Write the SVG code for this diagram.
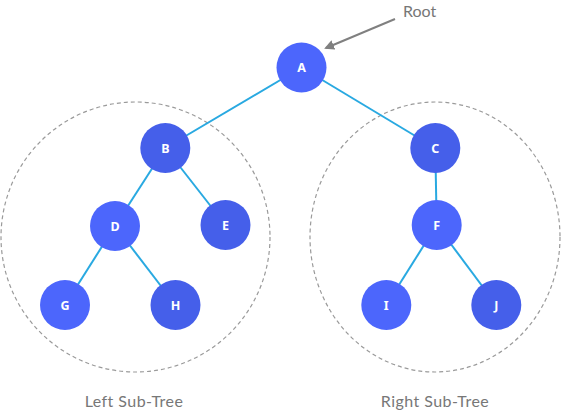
<svg xmlns="http://www.w3.org/2000/svg" width="561" height="413" viewBox="0 0 561 413">
<defs>
<style>
.n1{fill:#4c66fc}
.n2{fill:#455fea}
.lbl{fill:#fff;font-family:"Noto Sans","DejaVu Sans",sans-serif;font-weight:bold;font-size:12.5px;text-anchor:middle}
.edge{stroke:#29a9e1;stroke-width:2;fill:none}
.grp{fill:none;stroke:#9a9a9a;stroke-width:1.2;stroke-dasharray:4 3}
.cap{fill:#777;font-family:"Lato","Noto Sans",sans-serif;font-size:16px;text-anchor:middle}
.wide{letter-spacing:0.45px}
</style>
<marker id="ah" markerWidth="10" markerHeight="10" refX="8" refY="5" orient="auto" markerUnits="userSpaceOnUse">
<path d="M0,0 L10,5 L0,10 Z" fill="#808080"/>
</marker>
</defs>
<rect width="561" height="413" fill="#fff"/>
<g id="subtrees">
<ellipse class="grp" cx="135.5" cy="237" rx="134.5" ry="135"/>
<ellipse class="grp" cx="435" cy="237" rx="125" ry="135"/>
</g>
<g id="connectors">
<line class="edge" x1="301.5" y1="67.5" x2="165.3" y2="148"/>
<line class="edge" x1="301.5" y1="67.5" x2="435.3" y2="148"/>
<line class="edge" x1="165.3" y1="148" x2="115" y2="226"/>
<line class="edge" x1="165.3" y1="148" x2="225.5" y2="225"/>
<line class="edge" x1="115" y1="226" x2="65" y2="305"/>
<line class="edge" x1="115" y1="226" x2="175.5" y2="305"/>
<line class="edge" x1="435.3" y1="148" x2="436.7" y2="225"/>
<line class="edge" x1="436.7" y1="225" x2="386.3" y2="305"/>
<line class="edge" x1="436.7" y1="225" x2="496.3" y2="305"/>
<line x1="395" y1="19" x2="326" y2="48" stroke="#808080" stroke-width="2" marker-end="url(#ah)"/>
</g>
<g id="A"><circle class="n1" cx="301.5" cy="67.5" r="25"/><text class="lbl" x="301.5" y="72">A</text></g>
<g id="B"><circle class="n2" cx="165.3" cy="148" r="25"/><text class="lbl" x="165.3" y="152.5">B</text></g>
<g id="C"><circle class="n2" cx="435.3" cy="148" r="25"/><text class="lbl" x="435.3" y="152.5">C</text></g>
<g id="D"><circle class="n1" cx="115" cy="226" r="25"/><text class="lbl" x="115" y="230.5">D</text></g>
<g id="E"><circle class="n2" cx="225.5" cy="225" r="25"/><text class="lbl" x="225.5" y="229.5">E</text></g>
<g id="F"><circle class="n1" cx="436.7" cy="225" r="25"/><text class="lbl" x="436.7" y="229.5">F</text></g>
<g id="G"><circle class="n1" cx="65" cy="305" r="25"/><text class="lbl" x="65" y="309.5">G</text></g>
<g id="H"><circle class="n2" cx="175.5" cy="305" r="25"/><text class="lbl" x="175.5" y="309.5">H</text></g>
<g id="I"><circle class="n1" cx="386.3" cy="305" r="25"/><text class="lbl" x="386.3" y="309.5">I</text></g>
<g id="J"><circle class="n2" cx="496.3" cy="305" r="25"/><text class="lbl" x="496.3" y="309.5">J</text></g>
<text class="cap" x="419.5" y="17">Root</text>
<text class="cap wide" x="134" y="407">Left Sub-Tree</text>
<text class="cap wide" x="435" y="407">Right Sub-Tree</text>
</svg>
